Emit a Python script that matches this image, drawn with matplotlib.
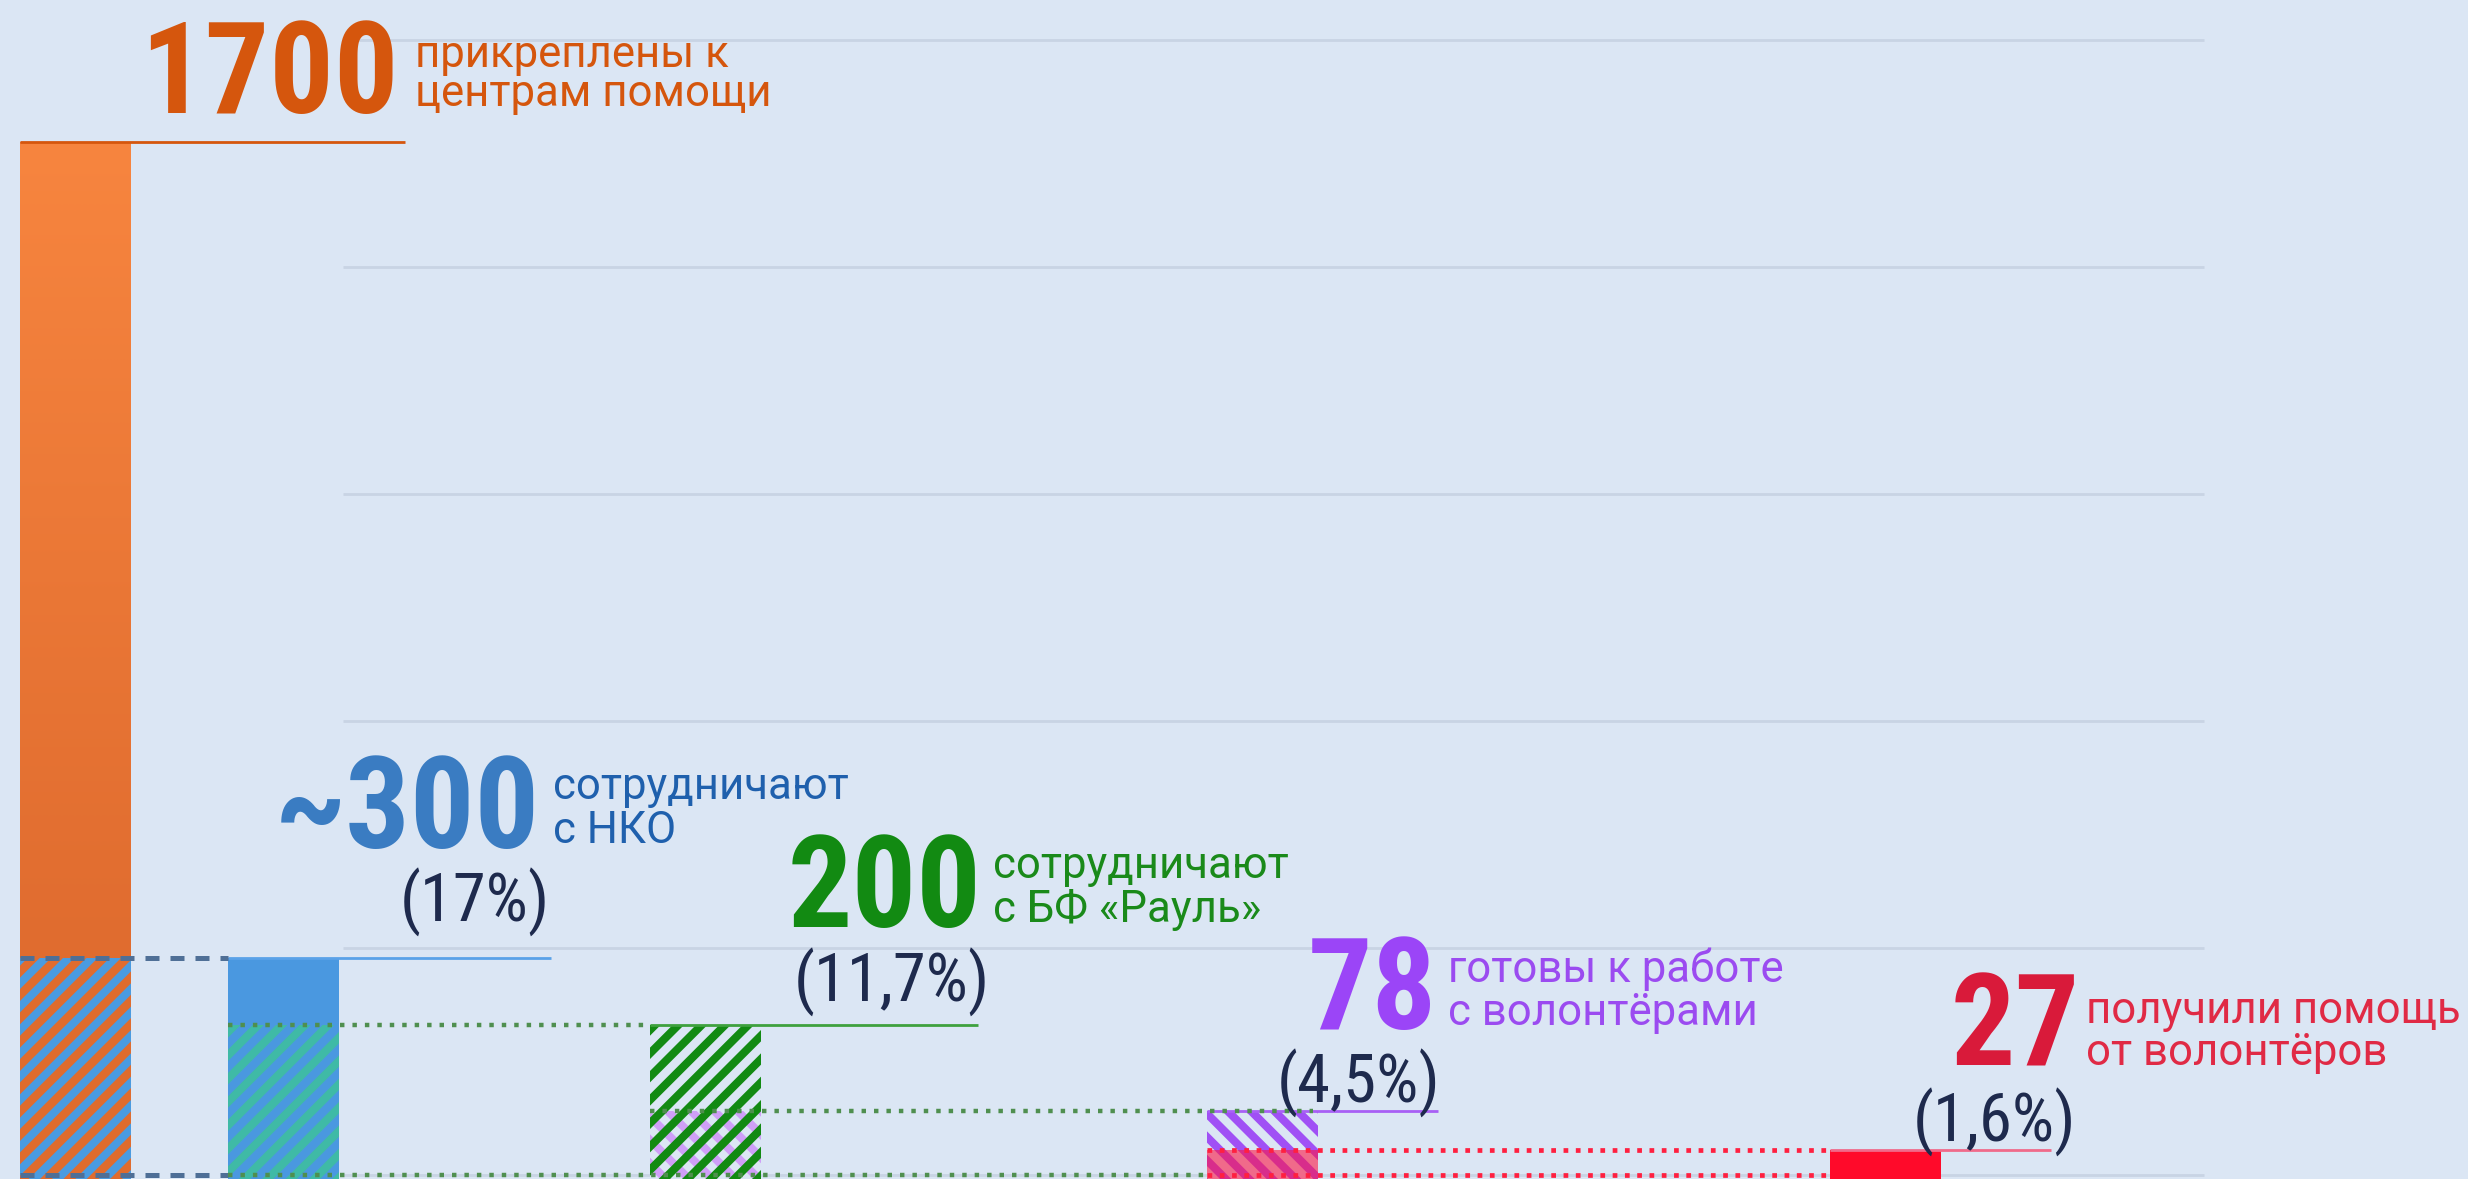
import os
import numpy as np
import matplotlib
matplotlib.use('Agg')
import matplotlib.pyplot as plt
from matplotlib import font_manager
from matplotlib.font_manager import FontProperties
from matplotlib.colors import to_rgb

# --- data ---
values = [1700, 300, 200, 78, 27]
numbers = ['1700', '~300', '200', '78', '27']
shares = ['', '(17%)', '(11,7%)', '(4,5%)', '(1,6%)']
captions = [['прикреплены к', 'центрам помощи'],
            ['сотрудничают', 'с НКО'],
            ['сотрудничают', 'с БФ «Рауль»'],
            ['готовы к работе', 'с волонтёрами'],
            ['получили помощь', 'от волонтёров']]

# --- layout (pixel-like units) ---
W, H = 2468, 1179
DPI = 140
pt = 100 / DPI  # keeps sizes tuned for 100 dpi
bar_left = [20, 228, 650, 1207, 1830]
bar_w = 111
line_end = [405, 551, 978, 1438, 2051]
num_right = [399, 540, 981, 1437, 2080]
num_base = [113, 848, 927, 1029, 1066]
cap_left = [415, 553, 993, 1448, 2086]
cap_base = [(67, 106), (799, 843), (878, 922), (982, 1025), (1023, 1065)]
share_right = [None, 550, 990, 1440, 2076]
share_base = [None, 922, 1002, 1103, 1142]

bg = '#dbe6f4'
num_col = ['#d5560d', '#3a7cc2', '#128a12', '#9b45f7', '#d91a3a']
cap_col = ['#d5560d', '#1f60ad', '#1a8a1a', '#9b4bf0', '#e02a45']
line_col = ['#d5560d', '#5aa2e8', '#3ea13e', '#a860f5', '#f06a8a']
navy = '#1e2a4d'


def pick(patterns, fallback):
    files = [f.fname for f in font_manager.fontManager.ttflist]
    for pat in patterns:
        for fn in files:
            if os.path.basename(fn).lower().startswith(pat.lower()):
                return FontProperties(fname=fn)
    return fallback


f_bold = pick(['RobotoCondensed-Bold.', 'Roboto_Condensed-Bold.', 'RobotoCondensed-Bold',
               'NotoSans-CondensedBold.', 'LiberationSansNarrow-Bold.'],
              FontProperties(family='Roboto', weight='bold'))
f_reg = FontProperties(family='Roboto')
f_share = pick(['RobotoCondensed-Regular.', 'Roboto_Condensed-Regular.',
                'RobotoCondensed-Regular', 'NotoSans-Condensed.',
                'LiberationSansNarrow-Regular.'],
               FontProperties(family='Roboto'))

plt.rcParams['hatch.linewidth'] = 5.8 * pt

fig = plt.figure(figsize=(W / DPI, H / DPI), dpi=DPI)
fig.patch.set_facecolor(bg)
ax = fig.add_axes([0, 0, 1, 1])
ax.set_facecolor(bg)
ax.axis('off')

p = 0.9
fwd = lambda v: np.sign(v) * np.abs(v) ** p
inv = lambda u: np.sign(u) * np.abs(u) ** (1 / p)
ax.set_yscale('function', functions=(fwd, inv))
k = 1.278  # px per scaled unit
y_lo, y_hi = inv(-(H - 1175) / k), inv(1175 / k)
floor = y_lo * 3

# grid lines (decorative, axes fraction)
for gy in [40, 267, 494, 721, 948, 1175]:
    ax.hlines(1 - gy / H, 343, 2204, transform=ax.get_xaxis_transform(),
              color='#c8d4e4', lw=2 * pt, zorder=0)


def bar(i, top, **kw):
    return ax.bar(bar_left[i], top - floor, bottom=floor, width=bar_w, align='edge',
                  linewidth=0, **kw)


# orange bar
bar(0, values[0], color='#e8743a', zorder=2)
c1, c2 = np.array(to_rgb('#f7853f')), np.array(to_rgb('#e06c2f'))
t = np.linspace(0, 1, 256)[:, None]
grad = (c1 * (1 - t) + c2 * t)[:, None, :].repeat(2, axis=1)
ax.imshow(grad, extent=[bar_left[0], bar_left[0] + bar_w, values[1], values[0]],
          aspect='auto', zorder=3, interpolation='bilinear')
bar(0, values[1], color='#e06c2e', edgecolor='#4a9be0', hatch='//', zorder=4)

# blue bar
bar(1, values[1], color='#4a98e0', zorder=2)
bar(1, values[2], color='#4a98e0', edgecolor='#3fbaa6', hatch='//', zorder=3)

# green bar
bar(2, values[2], color=bg, zorder=2)
bar(2, values[3], color='none', edgecolor='#cf9ff7', hatch='\\\\', zorder=3)
bar(2, values[2], color='none', edgecolor='#128a12', hatch='//', zorder=4)

# purple bar
bar(3, values[3], color=bg, edgecolor='#a050f5', hatch='\\\\', zorder=2)
bar(3, values[4], color='#ff1744', alpha=0.6, zorder=3)

# red bar
bar(4, values[4], color='#ff0a2a', zorder=2)

# underlines from each bar to its label
for i, v in enumerate(values):
    ax.plot([bar_left[i], line_end[i]], [v, v], color=line_col[i], lw=2 * pt, zorder=5,
            solid_capstyle='butt')

# connector lines between bars
dash = dict(color='#4f6f96', lw=3.6 * pt, dashes=(2.8, 2.2), zorder=6)
dot_g = dict(color='#4f8f4f', lw=3.2 * pt, dashes=(1.0, 1.8), zorder=6)
dot_r = dict(color='#ff2040', lw=3.4 * pt, dashes=(1.0, 1.6), zorder=6)
ax.plot([bar_left[0], bar_left[1]], [values[1], values[1]], **dash)
ax.plot([bar_left[0], bar_left[1]], [0, 0], **dash)
ax.plot([bar_left[1], bar_left[2]], [values[2], values[2]], **dot_g)
ax.plot([bar_left[1], bar_left[3]], [0, 0], **dot_g)
ax.plot([bar_left[2], bar_left[3] + 106], [values[3], values[3]], **dot_g)
ax.plot([bar_left[3], bar_left[4]], [values[4], values[4]], **dot_r)
ax.plot([bar_left[3], bar_left[4]], [0, 0], **dot_r)

ax.set_xlim(0, W)
ax.set_ylim(y_lo, y_hi)


def put(x, ypx, s, fp, size, color, ha):
    ax.text(x, 1 - ypx / H, s, transform=ax.get_xaxis_transform(), fontproperties=fp,
            fontsize=size * pt, color=color, ha=ha, va='baseline', zorder=7)


for i in range(len(values)):
    put(num_right[i], num_base[i], numbers[i], f_bold, 92, num_col[i], 'right')
    for line, yb in zip(captions[i], cap_base[i]):
        put(cap_left[i], yb, line, f_reg, 31.5, cap_col[i], 'left')
    if shares[i]:
        put(share_right[i], share_base[i], shares[i], f_share, 48, navy, 'right')

fig.savefig('out.png', dpi=DPI, facecolor=bg)
